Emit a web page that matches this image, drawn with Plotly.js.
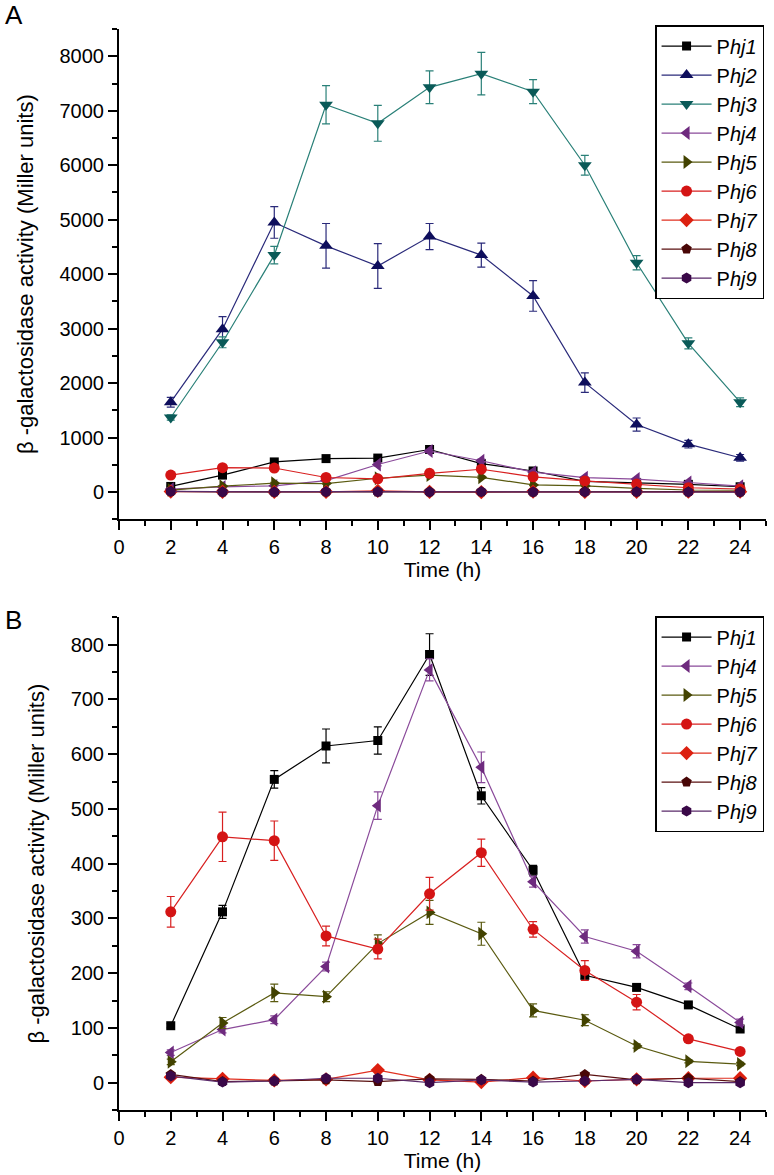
<!DOCTYPE html>
<html>
<head>
<meta charset="utf-8">
<script src="https://cdn.plot.ly/plotly-3.0.1.min.js"></script>
<style>html,body{margin:0;padding:0;background:#fff;}#chart{width:774px;height:1175px;}</style>
</head>
<body>
<div id="chart"></div>
<script>
// ---- data ----
const time = [2, 4, 6, 8, 10, 12, 14, 16, 18, 20, 22, 24];

const phj1 = [104, 312, 554, 615, 625, 782, 524, 388, 196, 174, 142, 98];
const phj1Err = [4, 12, 16, 31, 25, 38, 15, 9, 6, 5, 4, 4];
const phj2 = [1650, 2990, 4950, 4520, 4150, 4690, 4350, 3600, 2010, 1240, 880, 630];
const phj2Err = [90, 230, 290, 410, 410, 240, 220, 280, 180, 120, 70, 60];
const phj3 = [1370, 2750, 4350, 7110, 6770, 7430, 7680, 7350, 6000, 4210, 2730, 1650];
const phj3Err = [50, 100, 160, 350, 330, 300, 390, 220, 180, 130, 100, 80];
const phj4 = [55, 97, 115, 212, 506, 754, 576, 367, 267, 240, 176, 110];
const phj4Err = [5, 6, 7, 8, 25, 20, 28, 10, 12, 12, 6, 6];
const phj5 = [38, 109, 164, 157, 254, 311, 272, 132, 114, 67, 39, 34];
const phj5Err = [5, 10, 16, 9, 16, 22, 21, 12, 10, 4, 3, 3];
const phj6 = [312, 449, 442, 268, 244, 345, 420, 280, 205, 147, 80, 57];
const phj6Err = [28, 45, 36, 18, 18, 30, 25, 14, 18, 14, 6, 3];
const phj7 = [10, 7, 4, 6, 23, 5, 1, 9, 3, 6, 8, 8];
const phj7Err = [2, 2, 2, 2, 3, 2, 2, 2, 2, 2, 2, 2];
const phj8 = [15, 2, 3, 5, 2, 7, 6, 3, 15, 5, 8, 2];
const phj8Err = [2, 2, 2, 2, 2, 2, 2, 2, 3, 2, 2, 2];
const phj9 = [12, 1, 3, 8, 8, 0, 5, 1, 3, 6, 0, 0];
const phj9Err = [2, 2, 2, 2, 2, 2, 2, 2, 2, 2, 2, 2];

const seriesNames = ["P<i>hj1</i>", "P<i>hj2</i>", "P<i>hj3</i>", "P<i>hj4</i>", "P<i>hj5</i>",
                     "P<i>hj6</i>", "P<i>hj7</i>", "P<i>hj8</i>", "P<i>hj9</i>"];
const xTickLabels = ["0","2","4","6","8","10","12","14","16","18","20","22","24"];

// ---- styles ----
const styles = [
  {color: "#000000", symbol: "square", size: 9},
  {color: "#0e0e5c", symbol: "triangle-up", size: 12},
  {color: "#0a5a58", symbol: "triangle-down", size: 12},
  {color: "#6e2a7e", symbol: "triangle-left", size: 12},
  {color: "#424200", symbol: "triangle-right", size: 12},
  {color: "#d41414", symbol: "circle", size: 11},
  {color: "#dc2010", symbol: "diamond", size: 11},
  {color: "#480606", symbol: "pentagon", size: 11},
  {color: "#3a0848", symbol: "hexagon", size: 11}
];
const lineColors = ["#000000", "#2a2a7a", "#2a8078", "#8a4a9a", "#5a5a10", "#d82020", "#e03020", "#5a1010", "#5a2a6a"];

const values = [phj1, phj2, phj3, phj4, phj5, phj6, phj7, phj8, phj9];
const errors = [phj1Err, phj2Err, phj3Err, phj4Err, phj5Err, phj6Err, phj7Err, phj8Err, phj9Err];

function mk(i, xa, ya, leg) {
  const s = styles[i];
  return {
    x: time, y: values[i], type: "scatter", mode: "lines+markers",
    name: seriesNames[i], xaxis: xa, yaxis: ya, legend: leg,
    line: {color: lineColors[i], width: 1.2},
    marker: {color: s.color, symbol: s.symbol, size: s.size, line: {width: 0}},
    error_y: {type: "data", array: errors[i], visible: true, color: lineColors[i], thickness: 1.2, width: 4}
  };
}

const traces = [];
for (let i = 0; i < 9; i++) traces.push(mk(i, "x", "y", "legend"));
[0, 3, 4, 5, 6, 7, 8].forEach(i => traces.push(mk(i, "x2", "y2", "legend2")));

const font = "Liberation Sans, Arial, Helvetica, sans-serif";
const tickFont = {family: font, size: 20, color: "#000"};

function xAxis(anchor) {
  return {
    anchor: anchor, domain: [0, 1], range: [0, 25], tickmode: "array",
    tickvals: xTickLabels.map(Number), ticktext: xTickLabels,
    showline: true, linecolor: "#000", linewidth: 2, mirror: false,
    ticks: "outside", ticklen: 9, tickwidth: 2, tickcolor: "#000",
    minor: {ticks: "outside", ticklen: 5, tickwidth: 2, tickcolor: "#000", dtick: 1, tick0: 0, showgrid: false},
    showgrid: false, zeroline: false, tickfont: tickFont,
    title: {text: "Time (h)", font: {family: font, size: 21, color: "#000"}, standoff: 0},
    automargin: false
  };
}
function yAxis(anchor, domain, range, dtick) {
  return {
    anchor: anchor, domain: domain, range: range, dtick: dtick, tick0: 0,
    showline: true, linecolor: "#000", linewidth: 2,
    ticks: "outside", ticklen: 9, tickwidth: 2, tickcolor: "#000",
    minor: {ticks: "outside", ticklen: 5, tickwidth: 2, tickcolor: "#000", dtick: dtick / 2, tick0: 0, showgrid: false},
    showgrid: false, zeroline: false, tickfont: tickFont,
    title: {text: "β -galactosidase activity (Miller units)", font: {family: font, size: 22, color: "#000"}, standoff: 20},
    automargin: false
  };
}

const legendStyle = {
  font: {family: font, size: 20, color: "#000"},
  bgcolor: "#fff", bordercolor: "#000", borderwidth: 1.5,
  xanchor: "right", yanchor: "top", x: 0.997, itemwidth: 50, tracegroupgap: 0
};

const layout = {
  width: 774, height: 1175,
  margin: {l: 119, r: 8, t: 0, b: 0},
  paper_bgcolor: "#fff", plot_bgcolor: "#fff",
  showlegend: true,
  xaxis: xAxis("y"),
  yaxis: yAxis("x", [0.558, 0.9753], [-500, 8500], 1000),
  xaxis2: xAxis("y2"),
  yaxis2: yAxis("x2", [0.0553, 0.4746], [-50, 850], 100),
  legend: Object.assign({}, legendStyle, {y: 0.9787}),
  legend2: Object.assign({}, legendStyle, {y: 0.4757}),
  annotations: [
    {text: "A", xref: "paper", yref: "paper", x: -0.18, y: 0.9872, xanchor: "left", yanchor: "middle",
     showarrow: false, font: {family: font, size: 26, color: "#000"}},
    {text: "B", xref: "paper", yref: "paper", x: -0.18, y: 0.4723, xanchor: "left", yanchor: "middle",
     showarrow: false, font: {family: font, size: 26, color: "#000"}}
  ]
};

Plotly.newPlot("chart", traces, layout, {staticPlot: true, displayModeBar: false});
</script>
</body>
</html>
